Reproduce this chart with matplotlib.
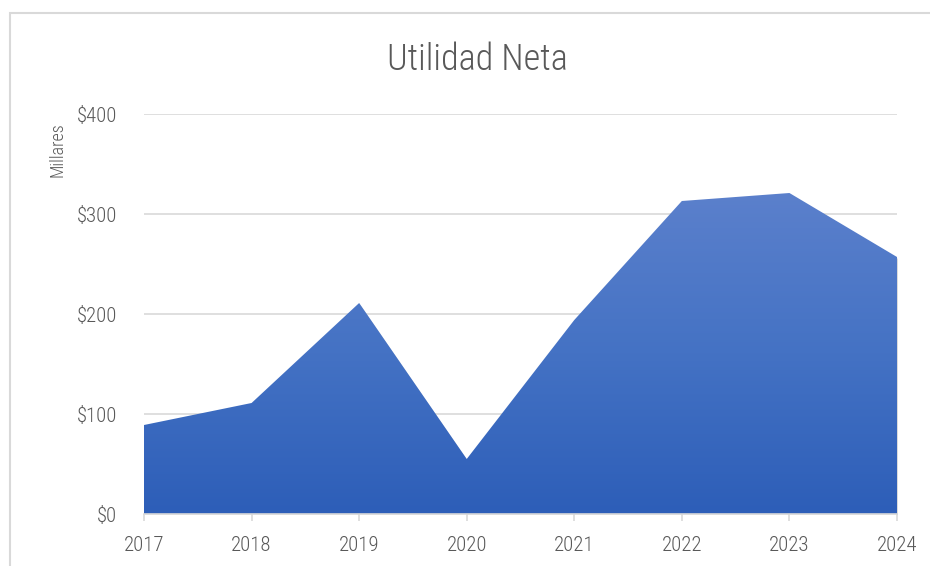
import numpy as np
import matplotlib
matplotlib.use('Agg')
import matplotlib.pyplot as plt
from matplotlib import font_manager
from matplotlib.colors import LinearSegmentedColormap
from matplotlib.patches import Rectangle

# Pick a condensed face if one is installed
names = {f.name for f in font_manager.fontManager.ttflist}
fam = 'DejaVu Sans'
for cand in ['Roboto Condensed', 'Liberation Sans Narrow', 'DejaVu Sans Condensed',
             'Open Sans Condensed', 'Noto Sans Condensed']:
    if cand in names:
        fam = cand
        break
plt.rcParams["font.family"] = [fam, 'DejaVu Sans']
condensed = fam != 'DejaVu Sans'

# Data (miles de dólares)
years = ["2017", "2018", "2019", "2020", "2021", "2022", "2023", "2024"]
utilidad = [89, 111, 211, 55, 194, 313, 321, 257]
yticks = [0, 100, 200, 300, 400]
ytick_labels = ["$0", "$100", "$200", "$300", "$400"]

text_col = "#595959"
grid_col = "#d9d9d9"
wt = "light" if condensed else "normal"
tsize = 15 if condensed else 12.5

fig = plt.figure(figsize=(9.3, 5.66), dpi=100)
ax = fig.add_axes([144/930, 52/566, (897-144)/930, 400/566])

x = np.arange(len(years))

# soft shadow under the area
for off, a in [(3, 0.04), (2, 0.05), (1, 0.06)]:
    ax.fill_between(x + off*0.004, np.array(utilidad) - off*0.8, 0, color="black", alpha=a, lw=0, zorder=1)

area = ax.fill_between(x, utilidad, 0, facecolor="none", edgecolor="none", zorder=2)
cmap = LinearSegmentedColormap.from_list("g", ["#2d5eb8", "#4472c4", "#5b80cc"])
grad = np.linspace(0, 1, 256).reshape(-1, 1)
img = ax.imshow(grad, cmap=cmap, aspect="auto", origin="lower",
                extent=[x[0], x[-1], 0, max(utilidad)], zorder=2)
img.set_clip_path(area.get_paths()[0], transform=ax.transData)

ax.set_xlim(x[0], x[-1])
ax.set_ylim(0, 400)
ax.set_yticks(yticks)
ax.set_yticklabels(ytick_labels, fontweight=wt)
ax.set_xticks(x)
ax.set_xticklabels(years, fontweight=wt)
ax.grid(axis="y", color=grid_col, lw=1.2, zorder=0)
ax.set_axisbelow(True)
for s in ["top", "right", "left"]:
    ax.spines[s].set_visible(False)
ax.spines["bottom"].set_color(grid_col)
ax.spines["bottom"].set_linewidth(1.2)
ax.spines["bottom"].set_zorder(3)
ax.tick_params(axis="y", length=0, pad=19.5, labelsize=tsize, labelcolor=text_col)
ax.tick_params(axis="x", length=5, color=grid_col, width=1.2, pad=11, labelsize=tsize, labelcolor=text_col)

fig.text(57/930, 1 - 150/566, "Millares", rotation=90, ha="center", va="center",
         fontsize=13 if condensed else 11, color=text_col, fontweight=wt)
fig.text(477/930, 1 - 60/566, "Utilidad Neta", ha="center", va="center",
         fontsize=26 if condensed else 23, color=text_col, fontweight=wt)

# chart border (right and bottom edges fall outside the picture)
fig.patches.append(Rectangle((10/930, -0.1), 1.1, 1 - 13/566 + 0.1, transform=fig.transFigure,
                             fill=False, edgecolor=grid_col, lw=1.5))

plt.savefig("out.png", dpi=100)
plt.close()
